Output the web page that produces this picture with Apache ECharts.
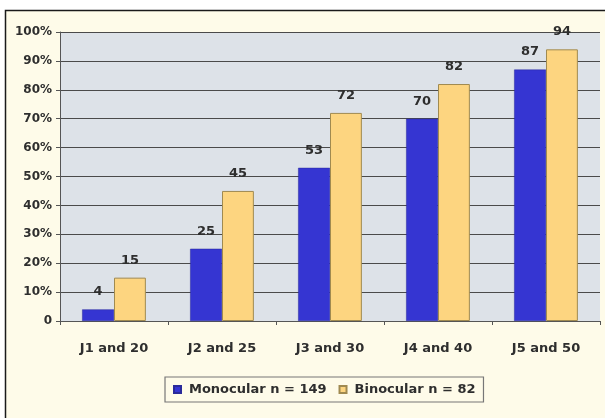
<!DOCTYPE html>
<html>
<head>
<meta charset="utf-8">
<script src="https://cdn.jsdelivr.net/npm/echarts@6/dist/echarts.min.js"></script>
<style>
  html, body { margin: 0; padding: 0; background: #ffffff; }
  #chart { width: 605px; height: 418px; }
</style>
</head>
<body>
<div id="chart"></div>
<script>
// Reading-acuity groups and the share of patients reaching each level
var categories = ['J1 and 20', 'J2 and 25', 'J3 and 30', 'J4 and 40', 'J5 and 50'];
var monocular = [4, 25, 53, 70, 87];
var binocular = [15, 45, 72, 82, 94];
var seriesNames = ['Monocular n = 149', 'Binocular n = 82'];
var yTicks = [0, 10, 20, 30, 40, 50, 60, 70, 80, 90, 100];

var chart = echarts.init(document.getElementById('chart'), null, { renderer: 'canvas' });

var textStyle = { fontFamily: 'DejaVu Sans, Verdana, sans-serif', fontWeight: 'bold', fontSize: 12, color: '#2e2e2e' };

chart.setOption({
  backgroundColor: 'transparent',
  animation: false,
  graphic: [
    {
      type: 'rect',
      z: -10,
      shape: { x: 5.5, y: 10.5, width: 700, height: 500 },
      style: { fill: '#fefbe9', stroke: '#1a1a1a', lineWidth: 1.5 }
    }
  ],
  grid: {
    left: 60, right: 5, top: 32, bottom: 97,
    show: true, backgroundColor: '#dde2e8', borderWidth: 0
  },
  legend: {
    data: seriesNames,
    icon: 'rect',
    left: 165, top: 377,
    itemWidth: 7, itemHeight: 7, itemGap: 12,
    padding: [6, 8, 6, 8],
    borderColor: '#777', borderWidth: 1.2,
    textStyle: Object.assign({}, textStyle, { fontSize: 13, padding: [0, 0, 0, 3] })
  },
  xAxis: {
    type: 'category',
    data: categories,
    axisLine: { lineStyle: { color: '#555', width: 1 } },
    axisTick: { show: true, length: 4, lineStyle: { color: '#555' } },
    axisLabel: Object.assign({}, textStyle, { fontSize: 13, margin: 21 })
  },
  yAxis: {
    type: 'value',
    min: 0, max: 100, interval: 10,
    axisLine: { show: true, lineStyle: { color: '#555', width: 1 } },
    axisTick: { show: true, length: 4, lineStyle: { color: '#555' } },
    splitLine: { lineStyle: { color: '#4a4a4a', width: 1.2 } },
    axisLabel: Object.assign({}, textStyle, {
      margin: 8,
      formatter: function (v) { return yTicks.indexOf(v) >= 0 ? (v === 0 ? '0' : v + '%') : ''; }
    })
  },
  series: [
    {
      name: seriesNames[0],
      type: 'bar',
      data: monocular,
      barGap: '0%',
      barCategoryGap: '41%',
      itemStyle: { color: '#3535d2', borderColor: '#2a2a9a', borderWidth: 0.5 },
      label: Object.assign({ show: true, position: 'top', distance: 11 }, textStyle, { fontSize: 13 })
    },
    {
      name: seriesNames[1],
      type: 'bar',
      data: binocular,
      itemStyle: { color: '#fdd580', borderColor: '#a08a50', borderWidth: 1 },
      label: Object.assign({ show: true, position: 'top', distance: 11 }, textStyle, { fontSize: 13 })
    }
  ]
});
</script>
</body>
</html>
